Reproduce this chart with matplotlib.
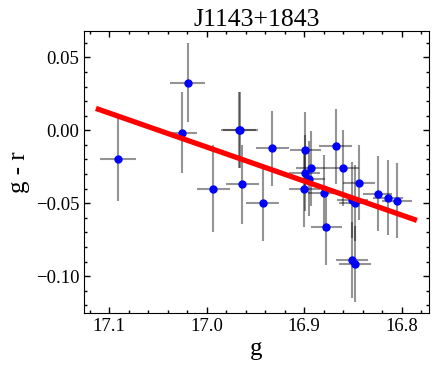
"""
Colour-magnitude plot (g - r versus g) for J1143+1843 with a linear fit.
Saves the figure as out.png.
"""

from matplotlib import pyplot
from matplotlib.ticker import MultipleLocator

# g magnitudes, g - r colours and their uncertainties
g_mag = [17.0905, 17.025, 17.0195, 16.967, 16.9655, 16.9932, 16.9636, 16.9427,
         16.9325, 16.899, 16.8995, 16.8926, 16.8946, 16.8997, 16.8677, 16.8796,
         16.8602, 16.8772, 16.8438, 16.8508, 16.8482, 16.8247, 16.8141, 16.8049,
         16.851, 16.848]
g_r = [-0.0199, -0.0016, 0.0327, 0.0, 0.0, -0.040, -0.037, -0.0502,
       -0.0125, -0.0137, -0.0292, -0.0262, -0.0331, -0.040, -0.011, -0.043,
       -0.0258, -0.0662, -0.036, -0.0476, -0.0498, -0.0434, -0.0464, -0.0482,
       -0.089, -0.0918]
g_err = [0.0184, 0.015, 0.018, 0.018, 0.018, 0.017, 0.017, 0.017,
         0.017, 0.016, 0.016, 0.016, 0.016, 0.016, 0.017, 0.016,
         0.016, 0.016, 0.016, 0.016, 0.016, 0.015, 0.015, 0.015,
         0.016, 0.016]
g_r_err = [0.0287, 0.0277, 0.027, 0.026, 0.026, 0.0297, 0.027, 0.0255,
           0.026, 0.026, 0.026, 0.026, 0.026, 0.026, 0.0257, 0.026,
           0.026, 0.026, 0.0257, 0.026, 0.026, 0.0255, 0.0257, 0.026,
           0.026, 0.026]

# linear fit end points
fit_g = [17.111, 16.787]
fit_g_r = [0.0144, -0.0612]

pyplot.rcParams['font.family'] = ['Liberation Serif', 'DejaVu Serif']
pyplot.rcParams['mathtext.fontset'] = 'stix'

fig = pyplot.figure(figsize=(4.36, 3.70), dpi=100)
ax = fig.add_axes([0.193, 0.154, 0.791, 0.762])

ax.errorbar(g_mag, g_r, xerr=g_err, yerr=g_r_err,
            fmt='o', color='blue', markersize=5,
            ecolor='black', elinewidth=1.5, capsize=0,
            zorder=3)
# make the error bars translucent grey
for coll in ax.collections:
  coll.set_alpha(0.42)
ax.plot(fit_g, fit_g_r, color='red', linewidth=3.8, zorder=4)

ax.set_xlim(17.1256, 16.772)
ax.set_ylim(-0.1253, 0.068)
ax.xaxis.set_major_locator(MultipleLocator(0.1))
ax.xaxis.set_minor_locator(MultipleLocator(0.02))
ax.yaxis.set_major_locator(MultipleLocator(0.05))
ax.yaxis.set_minor_locator(MultipleLocator(0.01))
ax.xaxis.set_major_formatter(pyplot.FormatStrFormatter('%.1f'))
ax.yaxis.set_major_formatter(pyplot.FuncFormatter(
    lambda v, pos: ('%.2f' % v).replace('-', '\u2212') if abs(v) > 1e-9 else '0.00'))
ax.tick_params(which='both', direction='in', top=True, right=True,
               labelsize=13.5, width=1)
ax.tick_params(which='major', length=4.5)
ax.tick_params(which='minor', length=2.5)

ax.set_xlabel('g', fontsize=18, labelpad=2)
ax.set_ylabel('g - r', fontsize=18)
ax.set_title('J1143+1843', fontsize=18.5, pad=3)

pyplot.savefig('out.png', dpi=100)
